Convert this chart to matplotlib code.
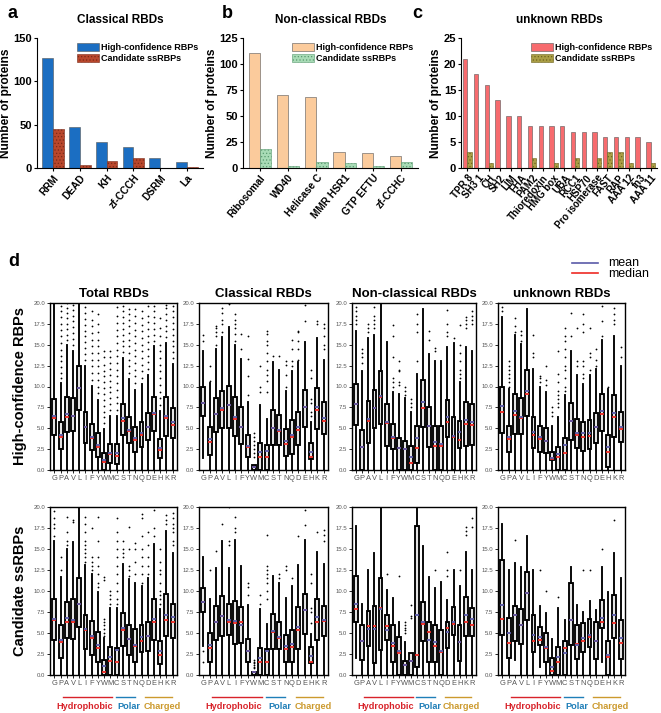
import numpy as np
import matplotlib
matplotlib.use('Agg')
import matplotlib.pyplot as plt

plt.rcParams['font.family'] = ['Liberation Sans', 'DejaVu Sans']
plt.rcParams['hatch.linewidth'] = 0.5

# ---------------- panels a-c: domain counts ----------------
classical_domains = ['RRM', 'DEAD', 'KH', 'zf-CCCH', 'DSRM', 'La']
classical_hc = [127, 47, 30, 24, 11, 7]
classical_ss = [45, 3, 8, 11, 0, 1]

nonclassical_domains = ['Ribosomal', 'WD40', 'Helicase C', 'MMR HSR1', 'GTP EFTU', 'zf-CCHC']
nonclassical_hc = [111, 70, 68, 15, 14, 12]
nonclassical_ss = [18, 2, 6, 5, 2, 6]

unknown_domains = ['TPR 8', 'SH3 1', 'CH', 'SH2', 'LIM', 'FHA', 'PAM2', 'Thioredoxin',
                   'HMG box', 'UBA', 'RCC1', 'HSP70', 'Pro isomerase', 'FAST', 'RAP',
                   'AAA 12', 'fn3', 'AAA 11']
unknown_hc = [21, 18, 16, 13, 10, 10, 8, 8, 8, 8, 7, 7, 7, 6, 6, 6, 6, 5]
unknown_ss = [3, 0, 1, 0, 0, 0, 2, 0, 1, 0, 2, 0, 2, 3, 3, 1, 0, 1]

# ---------------- panel d: amino-acid composition boxes ----------------
amino_acids = ['G', 'P', 'A', 'V', 'L', 'I', 'F', 'Y', 'W', 'M',
               'C', 'S', 'T', 'N', 'Q', 'D', 'E', 'H', 'K', 'R']

# rows: whisker low, q1, median, q3, whisker high, mean
hc_total = [
    (0, 4.2, 6.2, 8.5, 20, 6.5), (0, 2.5, 4.0, 5.7, 10.4, 4.2), (0, 4.5, 6.4, 8.7, 15.0, 6.7),
    (0, 4.7, 6.5, 8.6, 14.3, 6.5), (0, 7.2, 9.8, 12.5, 20, 9.8), (0, 3.2, 5.1, 7.0, 12.5, 5.2),
    (0, 2.4, 3.8, 5.5, 10.1, 4.0), (0, 1.6, 2.8, 4.4, 8.4, 3.0), (0, 0, 0.9, 2.0, 4.9, 1.2),
    (0, 0.8, 1.9, 3.1, 6.5, 2.0), (0, 0.7, 1.7, 3.1, 6.5, 2.0), (0, 4.2, 5.9, 7.9, 13.4, 6.2),
    (0, 3.2, 4.7, 6.3, 10.9, 4.8), (0, 2.2, 3.6, 5.2, 9.6, 3.8), (0, 2.8, 4.2, 5.8, 10.3, 4.4),
    (0, 3.6, 5.2, 6.8, 11.4, 5.2), (0, 4.7, 6.7, 8.8, 14.8, 6.8), (0, 1.4, 2.4, 3.7, 7.1, 2.6),
    (0, 4.1, 6.2, 8.7, 15.2, 6.5), (0, 3.8, 5.4, 7.4, 12.7, 5.7)]
hc_total_fliers = [
    [], [11, 11.6, 12.3, 13, 13.7, 14.4, 15.2, 16, 16.8, 17.5, 18.3, 19, 19.7],
    [15.6, 16.2, 16.9, 17.5, 18.2, 18.8, 19.4, 20], [15, 15.7, 16.4, 17.1, 17.8, 18.5, 19.2, 19.8], [],
    [13.2, 13.9, 14.6, 15.3, 16, 16.7, 17.4, 18.1, 18.8, 19.5],
    [10.8, 11.6, 12.4, 13.2, 14, 14.8, 15.6, 16.4, 17.2, 18, 19],
    [9.2, 10, 10.8, 11.6, 12.4, 13.2, 14, 14.8, 15.6, 16.5, 17.5, 18.7],
    [5.6, 6.3, 7, 7.7, 8.4, 9.1, 9.8, 10.5, 11.2, 11.9, 12.6, 13.5, 14.3],
    [7.2, 7.9, 8.6, 9.3, 10, 10.7, 11.4, 12.1, 12.8, 13.5, 14.3],
    [7.2, 8, 8.8, 9.6, 10.4, 11.2, 12, 12.8, 13.6, 14.4, 15.2, 16, 16.8, 17.6, 18.4, 19.5],
    [14.1, 14.8, 15.5, 16.2, 16.9, 17.6, 18.3, 19, 19.6],
    [11.6, 12.4, 13.2, 14, 14.8, 15.6, 16.4, 17.2, 18, 18.7, 19.3],
    [10.4, 11.2, 12, 12.8, 13.6, 14.4, 15.2, 16, 16.8, 17.6, 18.4, 19.3],
    [11, 11.8, 12.6, 13.4, 14.2, 15, 15.8, 16.6, 17.4, 18.2, 19],
    [12.1, 12.9, 13.7, 14.5, 15.3, 16.1, 16.9, 17.7, 18.5, 19.6],
    [15.5, 16.2, 16.9, 17.6, 18.3, 19, 19.6],
    [7.8, 8.6, 9.4, 10.2, 11, 11.8, 12.6, 13.4, 14.2, 15, 16, 17, 18.2],
    [15.9, 16.6, 17.3, 18, 18.7, 19.4, 19.8],
    [13.4, 14.1, 14.8, 15.5, 16.2, 16.9, 17.6, 18.3, 19, 19.6]]

hc_classical = [
    (1.4, 6.5, 8.0, 9.9, 14.3, 8.0), (0, 1.8, 3.4, 5.1, 10.4, 3.7), (0, 4.6, 6.7, 8.6, 14.5, 6.7),
    (0, 5.0, 7.2, 9.5, 15.9, 7.4), (0, 5.0, 7.8, 10.1, 17.1, 7.8), (0, 4.1, 6.1, 8.7, 15.0, 6.4),
    (0, 3.1, 5.1, 7.5, 13.3, 5.2), (0, 1.6, 2.7, 4.2, 8.2, 2.9), (0, 0, 0.35, 0.6, 0.6, 0.4),
    (0, 0, 1.6, 3.2, 7.8, 2.1), (0, 0, 1.5, 3.0, 6.1, 2.3), (0, 3.0, 5.0, 7.2, 12.9, 5.0),
    (0, 3.0, 4.7, 6.6, 12.0, 4.8), (0, 1.7, 3.1, 4.9, 9.5, 3.5), (0, 1.9, 4.0, 6.0, 11.8, 4.2),
    (0, 3.0, 4.8, 7.0, 12.9, 5.1), (0, 5.2, 7.6, 9.6, 15.3, 7.6), (0, 1.3, 1.6, 3.2, 5.7, 2.2),
    (0, 4.9, 7.2, 9.8, 15.8, 7.5), (0, 4.3, 5.9, 8.1, 13.2, 6.2)]
hc_classical_fliers = [
    [15.5, 16.2], [10.7, 12.5], [15, 16, 16.5, 17, 17.3], [16.5, 17.5, 18, 18.8, 19.4], [19.9],
    [15.5, 16.3, 17, 17.5, 18, 18.7], [14.5, 16.3], [9, 11.3, 13.3, 16],
    [1.5, 2, 2.5, 3, 3.5, 4, 4.4], [9.4, 9.9, 12.5],
    [9.4, 10.6, 11.4, 12, 13, 14, 15, 15.5, 16.3, 16.7], [13.7], [13.6], [10, 11.4, 12.6, 13],
    [12.5, 13, 14.5, 15.6], [13.2, 14.5, 15.5, 16.5, 16.7], [17.8, 19.8], [6.5, 7, 8, 8.5, 11, 12],
    [17.5, 17.8], [14.5, 15, 16, 17, 17.5]]

hc_nonclassical = [
    (0, 5.4, 7.9, 10.3, 16.7, 7.9), (0, 0, 2.8, 4.8, 11.8, 2.8), (0, 3.2, 5.9, 8.3, 15.8, 6.1),
    (0, 5.0, 7.4, 9.6, 16.2, 7.4), (0, 5.5, 8.7, 11.8, 20, 8.9), (0, 2.9, 5.6, 7.9, 15.3, 5.7),
    (0, 2.5, 3.8, 5.5, 9.3, 3.9), (0, 0, 2.6, 3.8, 9.1, 2.6), (0, 0, 2.5, 3.5, 8.6, 2.5),
    (0, 0, 0.8, 2.9, 7.0, 1.6), (0, 0.8, 2.6, 5.3, 11.5, 3.8), (0, 5.1, 7.4, 10.8, 19.3, 8.1),
    (0, 2.8, 5.3, 7.6, 13.9, 5.3), (0, 0, 2.9, 5.3, 13.1, 3.3), (0, 0, 2.9, 5.3, 13.1, 3.1),
    (0, 3.9, 5.7, 8.4, 14.7, 6.3), (0, 0, 4.0, 6.3, 15.2, 4.1), (0, 2.6, 3.6, 5.9, 10.5, 4.5),
    (0, 2.9, 5.5, 8.1, 14.7, 6.0), (0, 3.0, 5.4, 7.9, 14.3, 5.8)]
hc_nonclassical_fliers = [
    [17.5, 18, 18.5, 19, 19.5], [12.8, 13.5, 14, 14.5], [16.5, 17, 17.5], [17, 17.5, 18, 18.5, 19.5],
    [], [], [10, 10.5, 11, 13.5, 16, 17.4], [10.2, 10.5, 11.8, 12, 13], [9, 9.5, 10],
    [7.5, 8, 8.5], [13, 16.5, 17.5, 18.7], [], [15.6, 16.7], [14.2, 14.6], [],
    [16, 16.5, 17.5, 19.2], [15.8], [11, 11.5, 12, 13, 14, 15, 17.4], [17, 17.5, 18, 18.3],
    [17.5, 18, 18.5, 19]]

hc_unknown = [
    (0, 4.4, 6.9, 10.0, 18.3, 7.7), (0, 2.2, 3.7, 5.3, 9.7, 4.0), (0, 4.3, 6.6, 9.1, 16.2, 7.1),
    (0, 4.3, 6.2, 8.6, 15.1, 6.4), (0, 6.5, 9.1, 12.0, 19.3, 9.5), (0, 2.6, 4.2, 6.4, 12.1, 4.5),
    (0, 2.2, 3.7, 5.3, 9.9, 3.9), (0, 2.0, 3.5, 5.0, 9.3, 3.5), (0, 1.2, 1.3, 2.2, 5.3, 1.4),
    (0, 0, 1.6, 2.8, 6.4, 1.9), (0, 0, 2.0, 3.8, 9.0, 3.0), (0, 3.6, 5.9, 8.0, 14.3, 5.9),
    (0, 2.6, 4.2, 6.1, 11.4, 4.4), (0, 2.3, 4.0, 5.7, 10.3, 4.4), (0, 2.5, 4.1, 6.0, 11.4, 4.4),
    (0, 3.2, 5.2, 6.8, 12.1, 5.1), (0, 4.7, 6.7, 9.1, 15.6, 7.1), (0, 0.4, 2.2, 4.2, 9.7, 2.8),
    (0, 4.0, 6.4, 9.0, 16.1, 6.8), (0, 3.3, 4.9, 7.0, 12.5, 5.2)]
hc_unknown_fliers = [
    [19, 19.5], [10, 10.5, 11, 11.5, 12, 12.5, 13], [16.5, 17.3, 18.2], [15.5, 16.2, 16.7], [],
    [13.5, 14, 16.2], [10.5, 11, 11.2], [10.2, 10.8, 12.5], [6.5, 7, 7.5],
    [7.5, 8, 8.5, 9, 9.5, 10.5, 11.5, 14.3], [9.5, 10, 11, 12, 12.5, 13.5, 14.5, 15.5, 16, 17],
    [16, 18.8], [12.5, 13, 17], [11, 11.5, 12.5, 13, 16.5, 17.5, 18.7], [12, 13.5, 14, 17],
    [12.5, 13.2, 14.5], [16, 17.8, 19.6], [10], [17.5, 18, 18.7, 19.4], [13.5, 14.7]]

ss_total = [
    (0, 4.2, 6.5, 9.1, 16.0, 6.7), (0, 2.0, 3.9, 6.0, 11.7, 4.2), (0, 4.4, 6.3, 8.7, 15.0, 6.8),
    (0, 4.3, 6.3, 9.0, 15.8, 6.5), (0, 5.7, 8.4, 11.6, 20, 8.5), (0, 3.1, 5.3, 7.2, 13.1, 5.5),
    (0, 2.4, 4.4, 6.4, 12.0, 4.6), (0, 1.6, 3.2, 5.1, 9.9, 3.6), (0, 0, 0.4, 1.8, 4.4, 1.1),
    (0, 0, 1.7, 3.3, 8.0, 2.2), (0, 0, 1.6, 3.2, 8.0, 3.0), (0, 3.5, 5.3, 7.4, 13.2, 5.6),
    (0, 2.4, 4.3, 6.0, 11.4, 4.3), (0, 1.6, 3.4, 5.5, 10.9, 3.6), (0, 2.7, 4.1, 5.9, 10.6, 4.5),
    (0, 2.8, 4.6, 6.3, 11.6, 4.7), (0, 4.2, 6.3, 9.1, 15.6, 6.7), (0, 1.3, 2.4, 4.0, 7.9, 2.8),
    (0, 4.6, 6.6, 9.7, 17.2, 7.2), (0, 4.4, 6.3, 8.5, 14.5, 6.9)]
ss_total_fliers = [
    [16.5, 17.5, 18, 18.7, 19.5], [12.5, 14], [15.5, 16, 17, 18.8], [18.2, 18.5], [],
    [13.5, 14, 14.5, 15, 15.5, 16, 17, 18, 18.8], [12.5, 13, 13.5, 14, 17.5],
    [10.5, 11, 12, 13, 14, 16, 18.8], [4.7, 5, 5.5, 6, 6.3, 6.7, 11.3, 11.7], [8.5, 9, 9.5, 10],
    [8.5, 9, 10, 11, 12, 13, 14, 15, 16, 17, 18.7], [14, 14.5, 15, 16], [11.8, 12.5, 13, 15, 17.6],
    [12, 13.5, 15, 15.7], [11, 12, 13, 14, 15, 16.5, 18.7, 19.2], [12, 13, 14, 15.5, 17],
    [16.5, 17.5, 19.7], [8.5, 9, 9.5, 10, 11, 12, 12.5, 13.5, 15], [18, 18.5, 19],
    [15.5, 16, 17, 17.5, 18, 18.7, 19.3]]

ss_classical = [
    (3.5, 7.5, 8.7, 10.4, 14.1, 8.7), (0, 1.6, 3.2, 5.0, 9.1, 3.6), (0, 4.2, 6.3, 8.2, 12.7, 6.3),
    (0, 4.6, 7.0, 9.4, 15.9, 7.0), (0, 4.8, 6.3, 8.5, 12.7, 6.6), (0, 3.7, 6.2, 8.8, 16.1, 6.4),
    (0, 3.8, 6.3, 8.1, 13.0, 6.0), (0, 1.5, 2.8, 4.3, 8.3, 2.9), (0, 0, 0.3, 0.4, 0.4, 0.3),
    (0, 0, 1.6, 3.2, 7.8, 2.0), (0, 0, 1.6, 3.1, 6.1, 2.9), (0, 3.1, 5.1, 7.3, 11.8, 5.2),
    (0, 3.1, 4.4, 6.3, 10.9, 4.5), (0, 1.6, 3.1, 4.8, 9.2, 3.5), (0, 1.5, 3.3, 5.3, 10.6, 3.7),
    (0, 3.1, 5.4, 8.1, 13.1, 5.7), (0, 4.9, 7.7, 9.7, 16.1, 7.7), (0, 1.4, 1.6, 3.3, 4.9, 2.3),
    (0, 4.2, 6.3, 9.1, 14.7, 6.9), (0, 4.7, 6.4, 8.2, 13.2, 6.6)]
ss_classical_fliers = [
    [1.5, 2.8], [12.5], [14.8], [18], [15.5, 16, 20], [17, 17.5, 18.8], [], [9.5, 10.5, 11],
    [0.8, 1.0, 1.2, 1.4, 1.6, 1.8], [8.5, 9.5], [9, 10, 11, 11.5, 12, 12.5, 13, 16.7], [],
    [11.5, 12], [12.5, 13], [11.5], [16.5], [17.8, 19.7], [6.2, 7.5, 8, 11, 12], [17],
    [16, 16.7, 17.3]]

ss_nonclassical = [
    (2.0, 6.3, 7.9, 11.8, 17.7, 8.5), (0, 1.8, 4.0, 6.0, 8.5, 4.0), (0, 3.5, 5.8, 7.6, 12.5, 5.5),
    (0, 1.4, 5.8, 8.2, 14.5, 5.5), (0, 3.0, 8.0, 11.5, 20, 7.8), (0, 4.2, 5.8, 7.1, 10.1, 5.4),
    (0, 1.5, 3.4, 6.0, 9.2, 3.8), (0, 0, 2.6, 4.5, 6.3, 2.8), (0, 0, 1.2, 1.7, 3.9, 1.2),
    (0, 0, 1.7, 2.6, 2.6, 1.7), (0, 1.0, 2.4, 17.7, 20, 7.2), (0, 4.0, 6.1, 8.7, 15.3, 6.3),
    (0, 1.5, 5.1, 6.3, 11.7, 4.2), (0, 1.6, 3.4, 5.9, 10.4, 3.9), (0, 0, 2.7, 5.3, 11.1, 2.8),
    (0, 3.2, 5.6, 6.3, 8.9, 5.1), (0, 4.8, 6.1, 8.1, 12.5, 6.3), (0, 1.7, 3.9, 6.0, 10.6, 3.9),
    (0, 4.6, 6.3, 9.3, 14.7, 7.2), (0, 4.7, 5.9, 8.0, 12.5, 6.7)]
ss_nonclassical_fliers = [
    [], [], [], [], [], [12], [], [11.8], [5, 5.3, 5.6, 6, 6.3], [6.8, 7, 8.3], [], [], [],
    [12.5], [], [11.8, 12.5, 14.7], [], [12.5], [16.7, 17.1, 17.6], [17.6, 18.7]]

ss_unknown = [
    (0, 4.8, 6.7, 13.7, 18.0, 8.3), (0, 2.0, 3.8, 6.8, 12.5, 5.0), (1.8, 4.1, 7.1, 8.2, 13.3, 7.2),
    (0, 3.7, 6.0, 7.9, 12.8, 6.0), (0, 6.5, 9.8, 12.3, 16.6, 9.8), (0, 2.7, 4.0, 7.2, 12.5, 4.8),
    (1.0, 3.6, 4.2, 5.7, 8.2, 4.5), (0, 1.6, 3.2, 5.0, 7.4, 3.3), (0, 0, 0.5, 2.0, 4.3, 1.0),
    (0, 0, 1.5, 3.3, 8.0, 2.1), (0, 0, 3.2, 4.0, 6.5, 2.6), (0, 3.6, 6.6, 11.0, 12.9, 6.6),
    (0, 1.9, 3.7, 5.9, 8.3, 3.6), (0, 2.7, 4.1, 6.2, 7.5, 4.4), (0, 3.3, 4.5, 6.7, 8.8, 4.8),
    (0, 1.9, 4.0, 6.3, 7.7, 4.0), (1.6, 5.6, 6.3, 8.9, 12.9, 6.8), (0, 0, 2.1, 4.0, 9.9, 2.4),
    (0, 4.4, 6.2, 9.5, 14.5, 7.2), (0, 1.9, 3.8, 6.5, 11.5, 4.4)]
ss_unknown_fliers = [
    [], [], [16.1], [], [], [], [12.5], [10], [], [9.3], [], [], [], [12.5], [12.5], [], [15],
    [], [18.5], []]


def bar_panel(ax, names, hc, ss, hc_color, ss_color, ss_edge, title, ymax, step, xfs):
    x = np.arange(len(names))
    ax.bar(x - 0.2, hc, width=0.4, color=hc_color, edgecolor='#555555', linewidth=0.4,
           label='High-confidence RBPs')
    ax.bar(x + 0.2, ss, width=0.4, color=ss_color, edgecolor=ss_edge, linewidth=0.4,
           hatch='.....', label='Candidate ssRBPs')
    ax.set_xlim(-0.6, len(names) - 0.4)
    ax.set_ylim(0, ymax)
    ax.set_yticks(np.arange(0, ymax + 1, step))
    ax.set_xticks(x)
    ax.set_xticklabels(names, rotation=50, ha='right', rotation_mode='anchor',
                       fontsize=xfs, fontweight='bold')
    for lab in ax.get_yticklabels():
        lab.set_fontsize(8)
        lab.set_fontweight('bold')
    ax.set_ylabel('Number of proteins', fontsize=8.6, fontweight='bold', labelpad=1)
    ax.set_title(title, fontsize=8.5, fontweight='bold', pad=11)
    ax.spines['top'].set_visible(False)
    ax.spines['right'].set_visible(False)
    ax.tick_params(length=2, width=0.8, pad=1.5)
    leg = ax.legend(loc='upper right', fontsize=6.5, frameon=False, handlelength=2.4,
                    handleheight=1.1, borderaxespad=0.1, labelspacing=0.2, handletextpad=0.3)
    for t in leg.get_texts():
        t.set_fontweight('bold')


def box_panel(ax, rows, fliers):
    stats = []
    for aa, r, fl in zip(amino_acids, rows, fliers):
        lo, q1, med, q3, hi, mean = r
        stats.append(dict(label=aa, whislo=lo, q1=q1, med=med, q3=q3, whishi=hi,
                          mean=mean, fliers=fl))
    ax.bxp(stats, showmeans=True, meanline=True, widths=0.62, patch_artist=True,
           showcaps=False,
           boxprops=dict(facecolor='#e4e4e4', edgecolor='black', linewidth=1.35),
           whiskerprops=dict(color='black', linewidth=1.35),
           medianprops=dict(color='#ee2a24', linewidth=1.3),
           meanprops=dict(color='#5a5aa8', linewidth=1.3, linestyle='-'),
           flierprops=dict(marker='o', markersize=1.3, markerfacecolor='black',
                           markeredgecolor='black', markeredgewidth=0))
    ax.set_xlim(0.3, 20.7)
    ax.set_ylim(0, 20)
    ax.set_yticks(np.arange(0, 20.1, 2.5))
    ax.set_yticklabels(['%.1f' % v for v in np.arange(0, 20.1, 2.5)], fontsize=4.3,
                       color='#555555')
    ax.tick_params(axis='x', labelsize=5.4, labelcolor='#555555', length=2, width=0.6, pad=1.5)
    ax.tick_params(axis='y', length=2, width=0.6, pad=1.5)
    for s in ax.spines.values():
        s.set_linewidth(1.0)


fig = plt.figure(figsize=(6.61, 7.13), dpi=100)
W, H = 661.0, 713.0


def add_axes(x0, y0, x1, y1):
    return fig.add_axes([x0 / W, 1 - y1 / H, (x1 - x0) / W, (y1 - y0) / H])


ax_a = add_axes(37, 38, 203, 168)
bar_panel(ax_a, classical_domains, classical_hc, classical_ss, '#1b6ec2', '#b9472c',
          '#7a2a18', 'Classical RBDs', 150, 50, 7.3)
ax_b = add_axes(243, 38, 418, 168)
bar_panel(ax_b, nonclassical_domains, nonclassical_hc, nonclassical_ss, '#fbcb9c', '#a8dbb6',
          '#5a9a70', 'Non-classical RBDs', 125, 25, 7.3)
ax_c = add_axes(461, 38, 657, 168)
bar_panel(ax_c, unknown_domains, unknown_hc, unknown_ss, '#f76b6e', '#aa9e45', '#6e6420',
          'unknown RBDs', 25, 5, 7.0)

fig.text(8 / W, 1 - 14 / H, 'a', fontsize=13, fontweight='bold', va='center')
fig.text(222 / W, 1 - 14 / H, 'b', fontsize=13, fontweight='bold', va='center')
fig.text(412 / W, 1 - 14 / H, 'c', fontsize=13, fontweight='bold', va='center')
fig.text(8 / W, 1 - 262 / H, 'd', fontsize=13, fontweight='bold', va='center')

box_cols = [(50, 177), (199, 328), (352, 476), (498, 625)]
box_titles = ['Total RBDs', 'Classical RBDs', 'Non-classical RBDs', 'unknown RBDs']
top_rows = [(hc_total, hc_total_fliers), (hc_classical, hc_classical_fliers),
            (hc_nonclassical, hc_nonclassical_fliers), (hc_unknown, hc_unknown_fliers)]
bottom_rows = [(ss_total, ss_total_fliers), (ss_classical, ss_classical_fliers),
               (ss_nonclassical, ss_nonclassical_fliers), (ss_unknown, ss_unknown_fliers)]

for (x0, x1), title, top, bottom in zip(box_cols, box_titles, top_rows, bottom_rows):
    ax = add_axes(x0, 303, x1, 470)
    box_panel(ax, *top)
    ax.set_title(title, fontsize=9.5, fontweight='bold', pad=4)

    ax = add_axes(x0, 507, x1, 675)
    box_panel(ax, *bottom)
    groups = [('Hydrophobic', '#d8232a', 0.10, 0.49, 0.27),
              ('Polar', '#1f7fb8', 0.52, 0.67, 0.625),
              ('Charged', '#cc9a2e', 0.75, 0.96, 0.885)]
    for name, col, g0, g1, gx in groups:
        ax.plot([g0, g1], [-0.13, -0.13], color=col, linewidth=1.0,
                transform=ax.transAxes, clip_on=False)
        ax.text(gx, -0.185, name, color=col, fontsize=6.6, fontweight='bold',
                ha='center', va='center', transform=ax.transAxes)

fig.text(20 / W, 1 - 386 / H, 'High-confidence RBPs', rotation=90, fontsize=10.5,
         fontweight='bold', ha='center', va='center')
fig.text(20 / W, 1 - 591 / H, 'Candidate ssRBPs', rotation=90, fontsize=10.5,
         fontweight='bold', ha='center', va='center')

# mean / median key
fig.lines.append(plt.Line2D([572 / W, 598 / W], [1 - 263 / H, 1 - 263 / H], color='#5a5aa8',
                            linewidth=1.2, transform=fig.transFigure))
fig.lines.append(plt.Line2D([572 / W, 598 / W], [1 - 273 / H, 1 - 273 / H], color='#ee2a24',
                            linewidth=1.2, transform=fig.transFigure))
fig.text(608 / W, 1 - 263 / H, 'mean', fontsize=9, va='center')
fig.text(608 / W, 1 - 274 / H, 'median', fontsize=9, va='center')

fig.savefig('out.png', dpi=100)
